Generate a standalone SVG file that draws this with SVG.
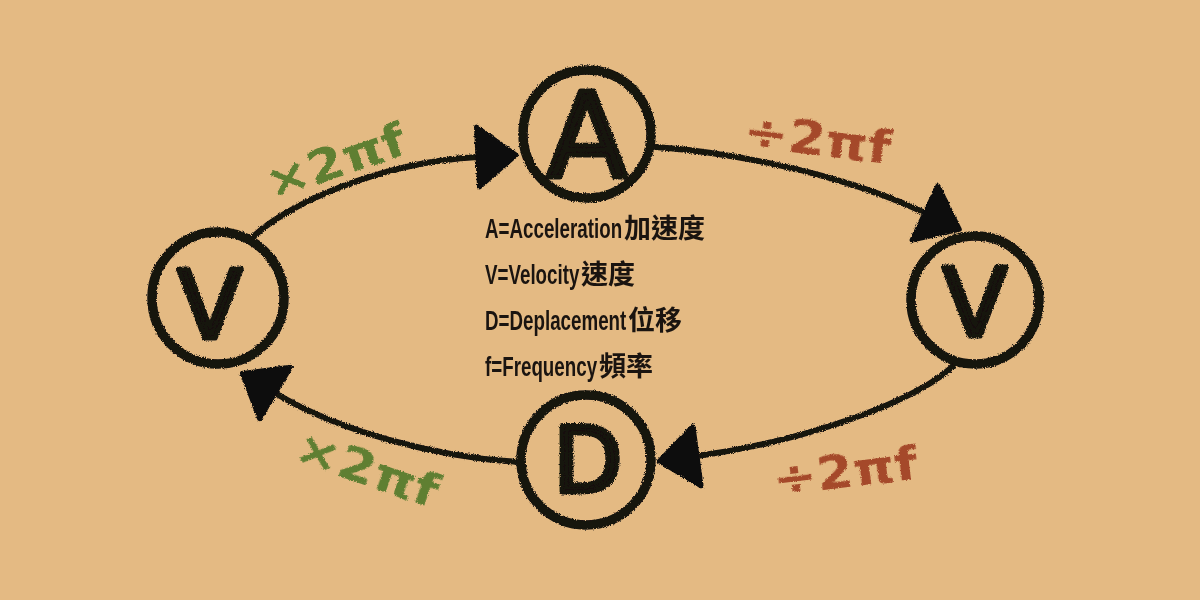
<svg xmlns="http://www.w3.org/2000/svg" width="1200" height="600" viewBox="0 0 1200 600">
  <defs>
    <filter id="chalk" x="-10%" y="-10%" width="120%" height="120%">
      <feTurbulence type="fractalNoise" baseFrequency="0.9" numOctaves="2" seed="3" result="n"/>
      <feDisplacementMap in="SourceGraphic" in2="n" scale="3.5" xChannelSelector="R" yChannelSelector="G"/>
    </filter>
    <filter id="soft" x="-10%" y="-10%" width="120%" height="120%">
      <feTurbulence type="fractalNoise" baseFrequency="0.7" numOctaves="2" seed="5" result="n"/>
      <feDisplacementMap in="SourceGraphic" in2="n" scale="3" xChannelSelector="R" yChannelSelector="G" result="d"/>
      <feGaussianBlur in="d" stdDeviation="0.7"/>
    </filter>
    <marker id="arrow" markerUnits="userSpaceOnUse" viewBox="-4 -36 48 72" refX="0" refY="0" markerWidth="48" markerHeight="72" orient="auto">
      <path d="M0,-30 L38,0 L0,30 Z" fill="#111" stroke="#111" stroke-width="5" stroke-linejoin="round"/>
    </marker>
    <style>
      .ring { fill: none; stroke: #141210; stroke-width: 9.5; }
      .conn { fill: none; stroke: #141210; stroke-width: 6; stroke-linecap: round; marker-end: url(#arrow); }
      .letter { font-family: "DejaVu Sans", "Liberation Sans", sans-serif; font-weight: normal; fill: #141210; stroke: #141210; stroke-width: 5; stroke-linejoin: round; stroke-linecap: round; text-anchor: middle; }
      .legend { font-family: "Liberation Sans", Arial, sans-serif; font-weight: bold; font-size: 27px; fill: #1a1410; }
      .cjk { font-family: "Noto Sans CJK TC", "Noto Sans CJK SC", sans-serif; font-weight: bold; font-size: 27px; fill: #1a1410; }
      .mul { font-family: "DejaVu Sans", "Liberation Sans", sans-serif; font-weight: bold; font-size: 46px; fill: #5f7f33; }
      .div { font-family: "DejaVu Sans", "Liberation Sans", sans-serif; font-weight: bold; font-size: 46px; fill: #a54a2b; }
    </style>
  </defs>

  <rect width="1200" height="600" fill="#e4ba83"/>

  <g id="connectors" filter="url(#chalk)">
    <path class="conn" d="M252,238 C285,205 380,162 478,157"/>
    <path class="conn" d="M656,147 C760,155 860,182 925,213"/>
    <path class="conn" d="M957,362 C920,402 800,442 697,456"/>
    <path class="conn" d="M520,462 C440,458 340,432 275,393"/>
  </g>

  <g id="node-A" filter="url(#chalk)">
    <circle class="ring" cx="587" cy="134" r="64"/>
    <text class="letter" x="587" y="177" font-size="118">A</text>
  </g>
  <g id="node-V-left" filter="url(#chalk)">
    <circle class="ring" cx="218" cy="298" r="66"/>
    <text class="letter" x="210" y="338" font-size="94">V</text>
  </g>
  <g id="node-V-right" filter="url(#chalk)">
    <circle class="ring" cx="975" cy="300" r="64"/>
    <text class="letter" x="975" y="336" font-size="94">V</text>
  </g>
  <g id="node-D" filter="url(#chalk)">
    <circle class="ring" cx="586" cy="460" r="65"/>
    <text class="letter" x="588" y="492" font-size="90">D</text>
  </g>

  <g id="labels" filter="url(#soft)">
    <text class="mul" x="272" y="200" transform="rotate(-19 272 200)" textLength="145" lengthAdjust="spacingAndGlyphs">×2πf</text>
    <text class="div" x="742" y="146" transform="rotate(7 742 146)" textLength="148" lengthAdjust="spacingAndGlyphs">÷2πf</text>
    <text class="mul" x="292" y="460" transform="rotate(19 292 460)" textLength="148" lengthAdjust="spacingAndGlyphs">×2πf</text>
    <text class="div" x="775" y="496" transform="rotate(-7 775 496)" textLength="145" lengthAdjust="spacingAndGlyphs">÷2πf</text>
  </g>

  <g id="legend">
    <g id="legend-A">
      <text class="legend" transform="translate(485 238) scale(0.695 1)">A=Acceleration</text>
      <text class="cjk" x="624" y="238">加速度</text>
    </g>
    <g id="legend-V">
      <text class="legend" transform="translate(485 284) scale(0.695 1)">V=Velocity</text>
      <text class="cjk" x="581" y="284">速度</text>
    </g>
    <g id="legend-D">
      <text class="legend" transform="translate(485 330) scale(0.695 1)">D=Deplacement</text>
      <text class="cjk" x="628" y="330">位移</text>
    </g>
    <g id="legend-f">
      <text class="legend" transform="translate(485 376) scale(0.695 1)">f=Frequency</text>
      <text class="cjk" x="599" y="376">頻率</text>
    </g>
  </g>
</svg>
